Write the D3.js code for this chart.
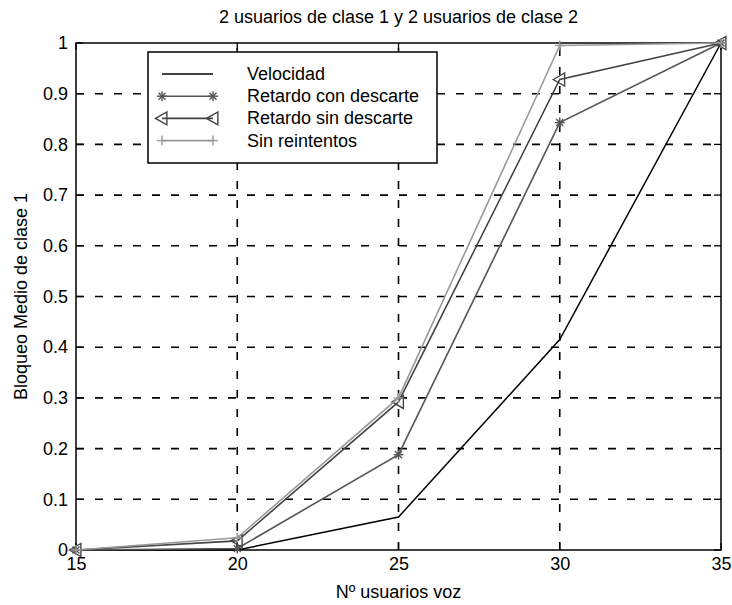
<!DOCTYPE html>
<html>
<head>
<meta charset="utf-8">
<script src="https://cdn.jsdelivr.net/npm/d3@7.9.0/dist/d3.min.js"></script>
<style>
  body { margin: 0; background: #fff; }
  svg { display: block; font-family: "Liberation Sans", Arial, sans-serif; }
</style>
</head>
<body>
<svg id="chart" width="732" height="605"></svg>
<script>
// data
const usuarios = [15, 20, 25, 30, 35];
const velocidad = [0, 0, 0.065, 0.415, 1];
const retardoConDescarte = [0, 0.003, 0.188, 0.843, 1];
const retardoSinDescarte = [0, 0.018, 0.292, 0.928, 1];
const sinReintentos = [0, 0.024, 0.3, 0.995, 1];
const yTicks = [0, 0.1, 0.2, 0.3, 0.4, 0.5, 0.6, 0.7, 0.8, 0.9, 1];
const seriesNames = ['Velocidad', 'Retardo con descarte', 'Retardo sin descarte', 'Sin reintentos'];

const series = [
  { name: seriesNames[0], values: velocidad, color: '#000', marker: 'none', width: 1.5 },
  { name: seriesNames[1], values: retardoConDescarte, color: '#555', marker: 'star', width: 1.6 },
  { name: seriesNames[2], values: retardoSinDescarte, color: '#444', marker: 'tri', width: 1.6 },
  { name: seriesNames[3], values: sinReintentos, color: '#9a9a9a', marker: 'plus', width: 1.6 }
];

const margin = { top: 43, right: 11, bottom: 55, left: 76 };
const width = 732, height = 605;
const fontSize = 18;

const svg = d3.select('#chart');

const x = d3.scaleLinear().domain([15, 35]).range([margin.left, width - margin.right]);
const y = d3.scaleLinear().domain([0, 1]).range([height - margin.bottom, margin.top]);

// grid
const grid = svg.append('g').attr('class', 'grid');
grid.selectAll('line.v')
  .data(usuarios.slice(1, -1))
  .join('line')
  .attr('x1', d => x(d)).attr('x2', d => x(d))
  .attr('y1', y(0)).attr('y2', y(1))
  .attr('stroke', '#000').attr('stroke-width', 1.6)
  .attr('stroke-dasharray', '8,11');
grid.selectAll('line.h')
  .data(yTicks.slice(1, -1))
  .join('line')
  .attr('x1', x(15)).attr('x2', x(35))
  .attr('y1', d => y(d)).attr('y2', d => y(d))
  .attr('stroke', '#000').attr('stroke-width', 1.6)
  .attr('stroke-dasharray', '8,11');

// axes (ticks inside, MATLAB style)
const xAxis = svg.append('g')
  .attr('transform', `translate(0,${y(0)})`)
  .call(d3.axisBottom(x).tickValues(usuarios).tickSize(0).tickPadding(7).tickFormat(d3.format('d')));
const yAxis = svg.append('g')
  .attr('transform', `translate(${x(15)},0)`)
  .call(d3.axisLeft(y).tickValues(yTicks).tickSize(0).tickPadding(8)
    .tickFormat(d => d === 0 || d === 1 ? d : d3.format('.1f')(d)));
[xAxis, yAxis].forEach(g => {
  g.select('.domain').remove();
  g.selectAll('text').attr('font-size', fontSize).attr('fill', '#000')
    .style('font-family', '"Liberation Sans", Arial, sans-serif');
});

// frame
svg.append('rect')
  .attr('x', x(15)).attr('y', y(1))
  .attr('width', x(35) - x(15)).attr('height', y(0) - y(1))
  .attr('fill', 'none').attr('stroke', '#000').attr('stroke-width', 1.5);

// inner tick marks
const tickLen = 7;
const ticks = svg.append('g').attr('stroke', '#000').attr('stroke-width', 1.3);
ticks.selectAll('line.xb').data(usuarios).join('line')
  .attr('x1', d => x(d)).attr('x2', d => x(d))
  .attr('y1', y(0)).attr('y2', y(0) - tickLen);
ticks.selectAll('line.xt').data(usuarios).join('line')
  .attr('x1', d => x(d)).attr('x2', d => x(d))
  .attr('y1', y(1)).attr('y2', y(1) + tickLen);
ticks.selectAll('line.yl').data(yTicks).join('line')
  .attr('x1', x(15)).attr('x2', x(15) + tickLen)
  .attr('y1', d => y(d)).attr('y2', d => y(d));
ticks.selectAll('line.yr').data(yTicks).join('line')
  .attr('x1', x(35)).attr('x2', x(35) - tickLen)
  .attr('y1', d => y(d)).attr('y2', d => y(d));

// marker drawing helper
function drawMarker(g, marker, cx, cy, color) {
  const s = 5;
  if (marker === 'star') {
    [[-s, 0, s, 0], [0, -s, 0, s], [-s * 0.7, -s * 0.7, s * 0.7, s * 0.7], [-s * 0.7, s * 0.7, s * 0.7, -s * 0.7]]
      .forEach(([a, b, c, e]) => g.append('line')
        .attr('x1', cx + a).attr('y1', cy + b).attr('x2', cx + c).attr('y2', cy + e)
        .attr('stroke', color).attr('stroke-width', 1.4));
  } else if (marker === 'tri') {
    const r = 6.5;
    g.append('path')
      .attr('d', `M${cx - r},${cy} L${cx + r * 0.75},${cy - r} L${cx + r * 0.75},${cy + r} Z`)
      .attr('fill', 'none').attr('stroke', color).attr('stroke-width', 1.4);
  } else if (marker === 'plus') {
    g.append('line').attr('x1', cx - s).attr('x2', cx + s).attr('y1', cy).attr('y2', cy)
      .attr('stroke', color).attr('stroke-width', 1.4);
    g.append('line').attr('x1', cx).attr('x2', cx).attr('y1', cy - s).attr('y2', cy + s)
      .attr('stroke', color).attr('stroke-width', 1.4);
  }
}

// lines
const line = d3.line().x((d, i) => x(usuarios[i])).y(d => y(d));
const plot = svg.append('g').attr('class', 'series');
series.forEach(s => {
  plot.append('path')
    .attr('d', line(s.values))
    .attr('fill', 'none')
    .attr('stroke', s.color)
    .attr('stroke-width', s.width);
  const mg = plot.append('g');
  s.values.forEach((v, i) => drawMarker(mg, s.marker, x(usuarios[i]), y(v), s.color));
});

// legend
const legend = svg.append('g').attr('transform', 'translate(148,52)');
legend.append('rect')
  .attr('width', 289).attr('height', 111)
  .attr('fill', '#fff').attr('stroke', '#000').attr('stroke-width', 1.5);
series.forEach((s, i) => {
  const ly = 22 + i * 22.2;
  const row = legend.append('g');
  row.append('line')
    .attr('x1', 14).attr('x2', 65).attr('y1', ly).attr('y2', ly)
    .attr('stroke', s.color).attr('stroke-width', s.width);
  drawMarker(row, s.marker, 14, ly, s.color);
  drawMarker(row, s.marker, 65, ly, s.color);
  row.append('text')
    .attr('x', 99).attr('y', ly + 6)
    .attr('font-size', fontSize)
    .text(s.name);
});

// title and labels
const cx = (x(15) + x(35)) / 2;
svg.append('text')
  .attr('x', cx).attr('y', 23)
  .attr('text-anchor', 'middle').attr('font-size', fontSize)
  .text('2 usuarios de clase 1 y 2 usuarios de clase 2');
svg.append('text')
  .attr('x', cx).attr('y', 598)
  .attr('text-anchor', 'middle').attr('font-size', fontSize)
  .text('Nº usuarios voz');
svg.append('text')
  .attr('transform', `translate(27,${y(0.5)}) rotate(-90)`)
  .attr('text-anchor', 'middle').attr('font-size', fontSize)
  .text('Bloqueo Medio de clase 1');
</script>
</body>
</html>
